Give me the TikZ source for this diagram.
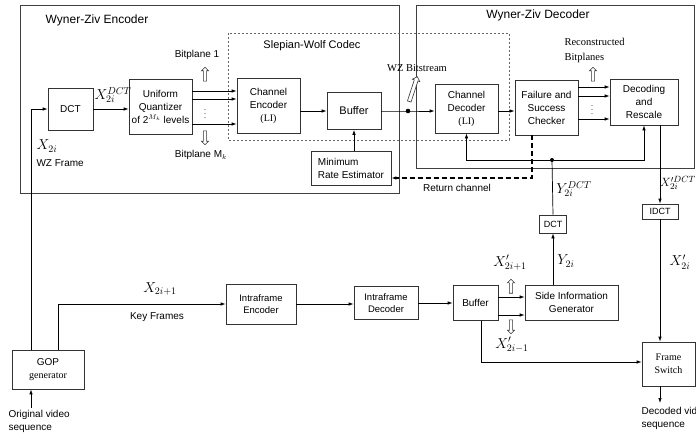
\documentclass[tikz,border=0pt]{standalone}
\usepackage{fontspec}
\setmainfont{Liberation Serif}
\setsansfont{Liberation Sans}
\usetikzlibrary{arrows.meta,shapes.arrows}

\begin{document}
\begin{tikzpicture}[x=1pt,y=-1pt,>={Latex[length=5pt,width=3.5pt]},
  font=\sffamily\fontsize{10}{13}\selectfont,
  blk/.style={draw=black!80,line width=0.7pt,align=center,inner sep=1pt},
  frame/.style={draw=black!75,line width=0.8pt},
  swbox/.style={draw=black!60,line width=0.6pt,dash pattern=on 2pt off 2pt},
  retline/.style={line width=1.6pt,dash pattern=on 5pt off 3pt},
  hollow/.style={single arrow,draw=black!80,fill=white,line width=0.6pt,
    minimum height=14,single arrow head extend=2pt,inner sep=1.3pt},
  mlbl/.style={font=\fontsize{14}{16}\selectfont,inner sep=1pt},
  conn/.style={line width=0.7pt}]
\useasboundingbox (0,0) rectangle (696,436);

% outer frames
\draw[frame] (20,5) rectangle (399,193);
\draw[frame] (416,5) rectangle (694,168);
\draw[swbox] (228,33) rectangle (509,140);
\node[font=\sffamily\fontsize{12}{14}\selectfont] (enctitle) at (97,20) {Wyner-Ziv Encoder};
\node[font=\sffamily\fontsize{12}{14}\selectfont] (dectitle) at (538,15) {Wyner-Ziv Decoder};
\node[font=\sffamily\fontsize{11}{13}\selectfont] (swtitle) at (312,46) {Slepian-Wolf Codec};

% encoder
\node[blk,minimum width=45,minimum height=42] (dct) at (70.5,109) {DCT};
\node[blk,minimum width=63,minimum height=55] (quant) at (160.5,106.5) {Uniform\\Quantizer\\of 2$^{M_k}$ levels};
\node[blk,minimum width=63,minimum height=55] (chenc) at (268.5,105.5) {Channel\\Encoder\\{\rmfamily(LI)}};
\node[blk,minimum width=54,minimum height=37,font=\sffamily\fontsize{11}{13}\selectfont] (buf1) at (354,111) {Buffer};
\node[blk,minimum width=80,minimum height=34,align=left] (mre) at (351,168) {Minimum\\Rate Estimator};

% decoder
\node[blk,minimum width=63,minimum height=49] (chdec) at (466.5,108.5) {Channel\\Decoder\\{\rmfamily(LI)}};
\node[blk,minimum width=63,minimum height=55] (checker) at (546.5,107.5) {Failure and\\Success\\Checker};
\node[blk,minimum width=68,minimum height=46] (decres) at (644,102) {Decoding\\and\\Rescale};
\node[blk,minimum width=36,minimum height=15,font=\sffamily\fontsize{9}{11}\selectfont] (idct) at (660,211.5) {IDCT};
\node[blk,minimum width=27,minimum height=18,font=\sffamily\fontsize{9}{11}\selectfont] (dct2) at (553,224) {DCT};
\node[blk,minimum width=53,minimum height=44,font=\rmfamily\fontsize{10}{13}\selectfont] (frsw) at (668.5,364) {Frame\\Switch};
\node[blk,minimum width=93,minimum height=35] (sigen) at (571.5,302.5) {Side Information\\Generator};
\node[blk,minimum width=45,minimum height=35] (buf2) at (475.5,303) {Buffer};
\node[blk,minimum width=64,minimum height=33,font=\sffamily\fontsize{9.5}{12}\selectfont] (intradec) at (386,303) {Intraframe\\Decoder};
\node[blk,minimum width=70,minimum height=40,font=\sffamily\fontsize{9.5}{12}\selectfont] (intraenc) at (261,304) {Intraframe\\Encoder};
\node[blk,minimum width=72,minimum height=39] (gop) at (48,369.5) {GOP\\{\rmfamily generator}};

% turning points
\coordinate (wzturn) at (31,109);
\coordinate (kfturn) at (58,304);
\coordinate (dot1) at (408,111);
\coordinate (dot2) at (552,160);
\coordinate (retturn) at (532,178);
\coordinate (bufturn) at (481,362);
\coordinate (origin) at (31,408);
\coordinate (decout) at (660,403);

\begin{scope}[conn,->]
\draw (gop.north -| wzturn) -- (wzturn) -- (dct.west);
\draw (dct.east) -- (quant.west |- dct.east);
\foreach \yy in {91,99,124}
  \draw (quant.east |- 0,\yy) -- (chenc.west |- 0,\yy);
\draw (chenc.east |- buf1) -- (buf1.west);
\draw (buf1.east) -- (dot1) -- (chdec.west |- dot1);
\draw (chdec.east |- dot1) -- (checker.west |- dot1);
\foreach \yy in {87,96,119}
  \draw (checker.east |- 0,\yy) -- (decres.west |- 0,\yy);
\draw (buf1.south |- mre.north) -- (buf1.south);
\draw (dot2) -- (chdec.south |- dot2) -- (chdec.south);
\draw (dot2) -- (decres.south |- dot2) -- (decres.south);
\draw (decres.south -| idct) -- (idct.north);
\draw (idct.south) -- (frsw.north -| idct);
\draw (frsw.south -| idct) -- (decout);
\draw (sigen.north -| dct2) -- (dct2.south);
\draw (gop.north -| kfturn) -- (kfturn) -- (intraenc.west |- kfturn);
\draw (intraenc.east) -- (intradec.west |- intraenc.east);
\draw (intradec.east) -- (buf2.west |- intradec.east);
\draw ([yshift=6]buf2.east) -- ([yshift=6]buf2.east -| sigen.west);
\draw ([yshift=-12]buf2.east) -- ([yshift=-12]buf2.east -| sigen.west);
\draw (buf2.south -| bufturn) -- (bufturn) -- (frsw.west |- bufturn);
\draw (origin) -- (gop.south -| origin);
\end{scope}
\draw[conn,-] (dct2.north) -- (dot2);
\draw[retline,->] (checker.south -| retturn) -- (retturn) -- (mre.east |- retturn);
\fill (dot1) circle (2.3);
\fill (dot2) circle (2);

% vertical dots
\node[font=\fontsize{8}{9}\selectfont,inner sep=0pt] (qdots) at (205,111) {$\vdots$};
\node[font=\fontsize{8}{9}\selectfont,inner sep=0pt] (cdots) at (592,107) {$\vdots$};

% hollow arrows
\node[hollow,rotate=90] (bp1arr) at (205,75) {};
\node[hollow,rotate=-90] (bpmarr) at (205,137) {};
\node[hollow,rotate=72,minimum height=26,inner sep=1.6pt] (wzarr) at (413,90) {};
\node[hollow,rotate=90] (recarr) at (593,75) {};
\node[hollow,rotate=90] (xparr) at (511,287) {};
\node[hollow,rotate=-90] (xmarr) at (511,326) {};

% labels
\node (bp1) at (197,55) {Bitplane 1};
\node (bpm) at (201,155) {Bitplane M$_k$};
\node[font=\rmfamily\fontsize{10.5}{12}\selectfont] (wzbs) at (417,68) {WZ Bitstream};
\node[font=\rmfamily\fontsize{10.5}{15}\selectfont,align=left,anchor=west] (recbp) at (561,50) {Reconstructed\\Bitplanes};
\node (retlbl) at (457,188) {Return channel};
\node[mlbl] (x2i) at (47,146) {$X_{2i}$};
\node[anchor=west] (wzfr) at (33,163) {WZ Frame};
\node[mlbl] (xdct) at (113,95) {$X_{2i}^{DCT}$};
\node[mlbl] (ydct) at (574,189) {$Y_{2i}^{DCT}$};
\node[mlbl,font=\fontsize{13}{15}\selectfont] (xpdct) at (678,183) {$X_{2i}^{\prime DCT}$};
\node[mlbl] (xp2i) at (680,262) {$X'_{2i}$};
\node[mlbl] (y2i) at (566,261) {$Y_{2i}$};
\node[mlbl] (xpp) at (510,263) {$X'_{2i+1}$};
\node[mlbl] (xpm) at (512,345) {$X'_{2i-1}$};
\node[mlbl] (x2ip) at (160,289) {$X_{2i+1}$};
\node (kf) at (157,317) {Key Frames};
\node[anchor=north west,align=left] (origlbl) at (5,407) {Original video\\sequence};
\node[anchor=north west,align=left] (declbl) at (638,404) {Decoded video\\sequence};
\end{tikzpicture}
\end{document}
